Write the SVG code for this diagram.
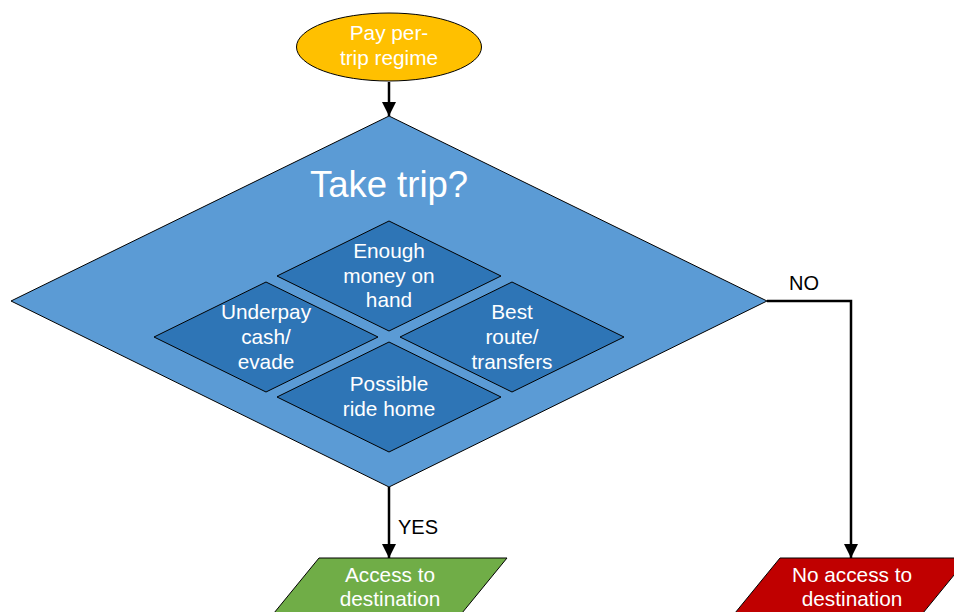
<svg xmlns="http://www.w3.org/2000/svg" width="954" height="612" viewBox="0 0 954 612">
  <defs>
    <marker id="arrow" viewBox="0 0 10 10" refX="10" refY="5" markerWidth="5.8" markerHeight="6" orient="auto" markerUnits="strokeWidth">
      <path d="M0,0 L10,5 L0,10 z" fill="#000"/>
    </marker>
    <style>
      .shape { stroke: #000; stroke-width: 1; }
      .lbl { font-family: "Liberation Sans", Arial, sans-serif; fill: #fff; text-anchor: middle; }
      .small { font-size: 20.8px; }
      .edge { fill: none; stroke: #000; stroke-width: 2.5; }
      .elbl { font-family: "Liberation Sans", Arial, sans-serif; font-size: 20px; fill: #000; }
    </style>
  </defs>
  <rect width="954" height="612" fill="#fff"/>

  <g id="connectors">
    <path class="edge" d="M389,82 V116" marker-end="url(#arrow)"/>
    <path class="edge" d="M389,487 V558" marker-end="url(#arrow)"/>
    <path class="edge" d="M767,301 H851 V558" marker-end="url(#arrow)"/>
    <text class="elbl" x="398" y="534">YES</text>
    <text class="elbl" x="789" y="290">NO</text>
  </g>

  <g id="start">
    <ellipse class="shape" cx="389" cy="47" rx="92.5" ry="34" fill="#FFC000"/>
    <text class="lbl small" x="389" y="40">Pay per-</text>
    <text class="lbl small" x="389" y="65">trip regime</text>
  </g>

  <g id="take-trip">
    <polygon class="shape" points="389,116 767,301 389,487 11,301" fill="#5B9BD5"/>
    <text class="lbl" x="389" y="197" font-size="36.5">Take trip?</text>
  </g>

  <g id="money">
    <polygon class="shape" points="389,221 501,276 389,331 277,276" fill="#2E75B6"/>
    <text class="lbl small" x="389" y="258">Enough</text>
    <text class="lbl small" x="389" y="283">money on</text>
    <text class="lbl small" x="389" y="307">hand</text>
  </g>

  <g id="underpay">
    <polygon class="shape" points="266,282 378,337 266,392 154,337" fill="#2E75B6"/>
    <text class="lbl small" x="266" y="319">Underpay</text>
    <text class="lbl small" x="266" y="344">cash/</text>
    <text class="lbl small" x="266" y="369">evade</text>
  </g>

  <g id="route">
    <polygon class="shape" points="512,282 624,337 512,392 400,337" fill="#2E75B6"/>
    <text class="lbl small" x="512" y="319">Best</text>
    <text class="lbl small" x="512" y="344">route/</text>
    <text class="lbl small" x="512" y="369">transfers</text>
  </g>

  <g id="ride-home">
    <polygon class="shape" points="389,342 501,397 389,452 277,397" fill="#2E75B6"/>
    <text class="lbl small" x="389" y="391">Possible</text>
    <text class="lbl small" x="389" y="416">ride home</text>
  </g>

  <g id="access">
    <polygon class="shape" points="319,558 507,558 453,624 265,624" fill="#70AD47"/>
    <text class="lbl small" x="390" y="582">Access to</text>
    <text class="lbl small" x="390" y="606">destination</text>
  </g>

  <g id="no-access">
    <polygon class="shape" points="780,558 968,558 914,624 726,624" fill="#C00000"/>
    <text class="lbl small" x="852" y="582">No access to</text>
    <text class="lbl small" x="852" y="606">destination</text>
  </g>
</svg>
